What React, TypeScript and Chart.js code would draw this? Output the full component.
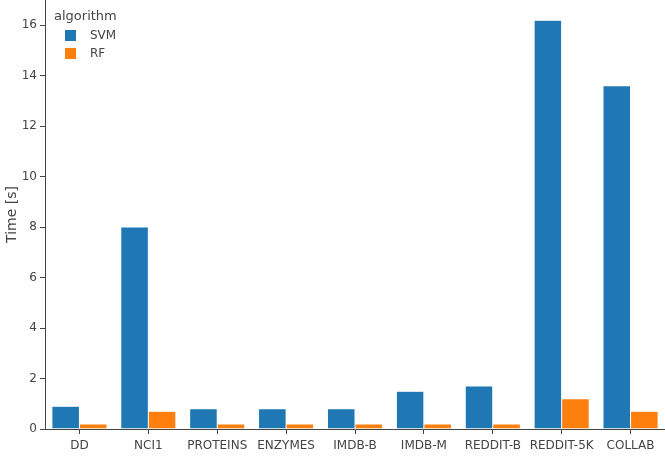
import React, { useEffect, useRef } from "react";
import { Chart, registerables } from "chart.js";

Chart.register(...registerables);

const categories = ["DD", "NCI1", "PROTEINS", "ENZYMES", "IMDB-B", "IMDB-M", "REDDIT-B", "REDDIT-5K", "COLLAB"];
const svmValues = [0.9, 8.0, 0.8, 0.8, 0.8, 1.5, 1.7, 16.2, 13.6];
const rfValues = [0.2, 0.7, 0.2, 0.2, 0.2, 0.2, 0.2, 1.2, 0.7];
const seriesNames = ["SVM", "RF"];
const seriesColors = ["#1f77b4", "#ff7f0e"];
const legendTitle = "algorithm";
const yTitle = "Time [s]";
const yTicks = [0, 2, 4, 6, 8, 10, 12, 14, 16];

const FONT = "'DejaVu Sans', Verdana, sans-serif";
const AXIS = "#444";

const legendPlugin = {
  id: "customLegend",
  afterDraw(chart: any) {
    const ctx = chart.ctx;
    ctx.save();
    ctx.fillStyle = AXIS;
    ctx.font = `13px ${FONT}`;
    ctx.textBaseline = "middle";
    ctx.textAlign = "left";
    ctx.fillText(legendTitle, 54, 17);
    chart.data.datasets.forEach((ds: any, i: number) => {
      const cy = 35 + i * 18;
      ctx.fillStyle = ds.backgroundColor;
      ctx.fillRect(65, cy - 5, 11, 11);
      ctx.fillStyle = AXIS;
      ctx.font = `12px ${FONT}`;
      ctx.fillText(ds.label, 90, cy + 0.5);
    });
    ctx.restore();
  },
};

export default function App() {
  const ref = useRef<HTMLCanvasElement>(null);
  useEffect(() => {
    if (!ref.current) return;
    const chart = new Chart(ref.current, {
      type: "bar",
      data: {
        labels: categories,
        datasets: [
          { label: seriesNames[0], data: svmValues, backgroundColor: seriesColors[0], borderColor: "rgba(255,255,255,0.5)", borderWidth: 0.5, categoryPercentage: 0.8, barPercentage: 1 },
          { label: seriesNames[1], data: rfValues, backgroundColor: seriesColors[1], borderColor: "rgba(255,255,255,0.5)", borderWidth: 0.5, categoryPercentage: 0.8, barPercentage: 1 },
        ],
      },
      options: {
        responsive: false,
        animation: false,
        layout: { padding: 0 },
        plugins: { legend: { display: false }, tooltip: { enabled: false } },
        scales: {
          x: {
            grid: { display: true, offset: false, drawOnChartArea: false, drawTicks: true, tickLength: 5, color: AXIS },
            border: { display: true, color: AXIS, width: 1 },
            ticks: { color: AXIS, font: { family: FONT, size: 12 }, padding: 5, maxRotation: 0, autoSkip: false },
            afterFit(scale: any) {
              scale.height = 46;
              scale.paddingLeft = 0;
              scale.paddingRight = 0;
            },
          },
          y: {
            min: 0,
            max: 17,
            grid: { display: true, drawOnChartArea: false, drawTicks: true, tickLength: 5, color: AXIS },
            border: { display: true, color: AXIS, width: 1 },
            ticks: { color: AXIS, font: { family: FONT, size: 12 }, padding: 3, stepSize: 2, includeBounds: false },
            afterBuildTicks(scale: any) {
              scale.ticks = yTicks.map((v) => ({ value: v }));
            },
            title: { display: true, text: yTitle, color: AXIS, font: { family: FONT, size: 14 }, padding: { top: 4, bottom: 4 } },
            afterFit(scale: any) {
              scale.width = 45;
              scale.paddingTop = 0;
              scale.paddingBottom = 0;
            },
          },
        },
      },
      plugins: [legendPlugin],
    } as any);
    return () => chart.destroy();
  }, []);
  return (
    <div style={{ position: "fixed", left: 0, top: 0, width: 665, height: 475, background: "#fff" }}>
      <canvas ref={ref} width={665} height={475} style={{ display: "block" }} />
    </div>
  );
}
